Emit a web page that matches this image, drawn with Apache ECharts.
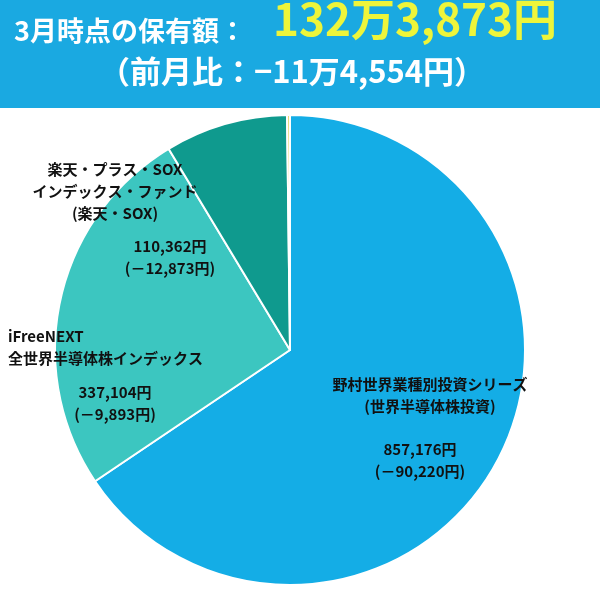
<!DOCTYPE html>
<html><head><meta charset="utf-8">
<script src="https://cdn.jsdelivr.net/npm/echarts@6/dist/echarts.min.js"></script>
<style>html,body{margin:0;padding:0;background:#fff}#c{width:600px;height:600px}</style>
</head><body><div id="c"></div>
<script>
const names = ['野村世界業種別投資シリーズ（世界半導体株投資）','iFreeNEXT 全世界半導体株インデックス','楽天・プラス・SOXインデックス・ファンド（楽天・SOX）','その他'];
const values = [857176, 337104, 110362, 2600];
const colors = ['#14ade6','#3cc6c0','#0f9a8e','#e6d66a'];
const F = '"Noto Sans CJK JP", sans-serif';
const chart = echarts.init(document.getElementById('c'));
const T = (x,y,t,align,size,fill) => ({type:'text',x:x,y:y,z:100,style:{text:t,fontFamily:F,fontWeight:'bold',fontSize:size||15,fill:fill||'#111',align:align||'center',lineHeight:22}});
chart.setOption({
  animation:false,
  graphic:[
    {type:'rect',shape:{x:0,y:0,width:600,height:108},style:{fill:'#1aa9e1'},z:-1},
    T(14,20,'3月時点の保有額：','left',27,'#fff'),
    T(273,8,'132万3,873円','left',44,'#eef53a'),
    T(292,60,'（前月比：−11万4,554円）','center',31,'#fff'),
    T(115,158,'楽天・プラス・SOX\nインデックス・ファンド\n(楽天・SOX)'),
    T(170,235,'110,362円\n(－12,873円)'),
    T(8,325,'iFreeNEXT\n全世界半導体株インデックス','left'),
    T(115,381,'337,104円\n(－9,893円)'),
    T(430,373,'野村世界業種別投資シリーズ\n(世界半導体株投資)'),
    T(420,438,'857,176円\n(－90,220円)')
  ],
  series:[{
    type:'pie',center:[290,350],radius:[0,235],startAngle:90,clockwise:true,z:1,
    label:{show:false},labelLine:{show:false},
    itemStyle:{borderColor:'#fff',borderWidth:2},
    data:names.map((n,i)=>({name:n,value:values[i],itemStyle:{color:colors[i]}}))
  }]
});
</script></body></html>
